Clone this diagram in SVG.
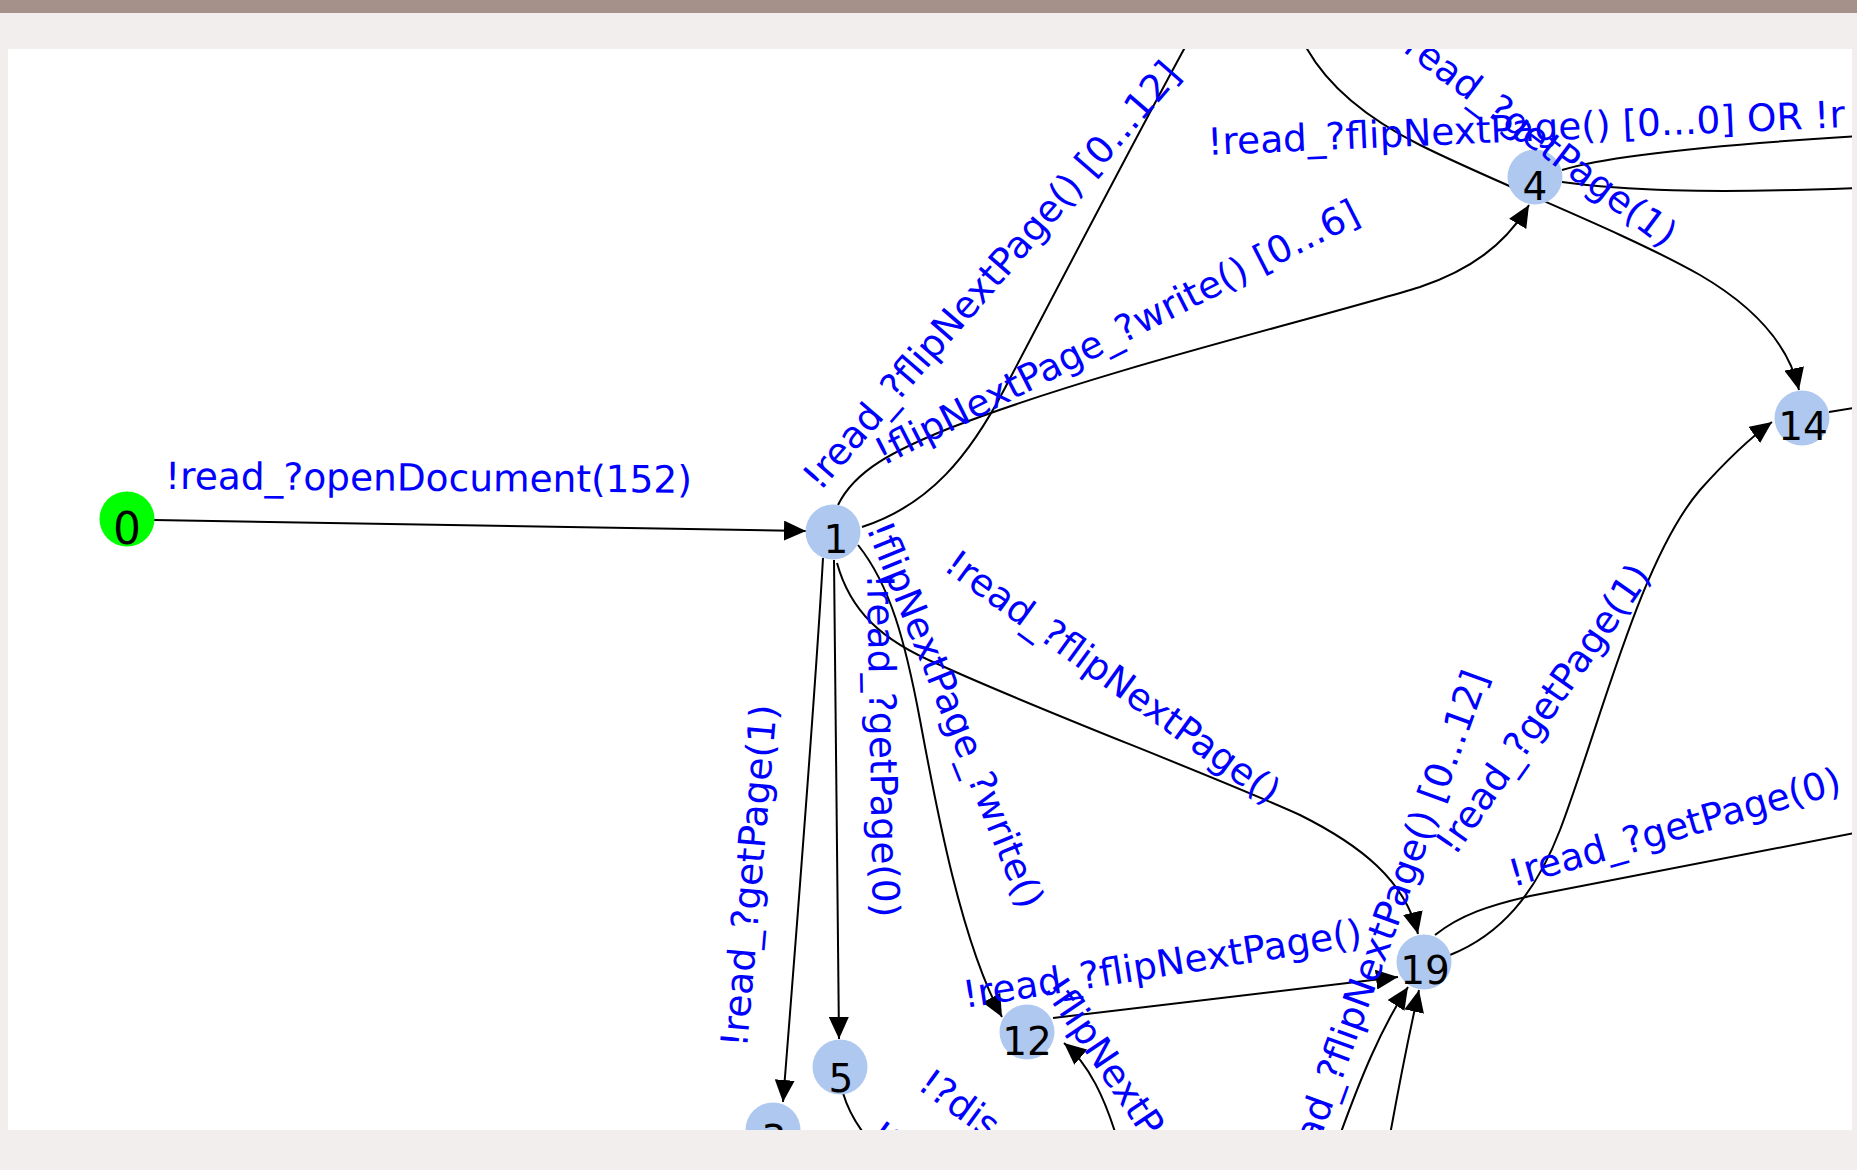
<svg xmlns="http://www.w3.org/2000/svg" width="1857" height="1170" viewBox="0 0 1857 1170">
  <defs>
    <style>
      .edge { fill: none; stroke: #000; stroke-width: 2; }
      .arrowed { marker-end: url(#arrow); }
      .lbl { font-family: "DejaVu Sans", "Liberation Sans", sans-serif; font-size: 37.5px; fill: #0000ff; }
      .state { fill: #afc8f0; }
      .start { fill: #00ff00; }
      .num { font-family: "DejaVu Sans", "Liberation Sans", sans-serif; font-size: 39px; fill: #000; text-anchor: middle; }
    </style>
    <marker id="arrow" viewBox="0 0 22 20" refX="22" refY="10" markerWidth="22" markerHeight="20" markerUnits="userSpaceOnUse" orient="auto">
      <path d="M0,0 L22,10 L0,20 z" fill="#000"/>
    </marker>
    <clipPath id="canvas">
      <rect x="8" y="49" width="1844" height="1081"/>
    </clipPath>
  </defs>

  <!-- window chrome -->
  <rect x="0" y="0" width="1857" height="1170" fill="#f2eeed"/>
  <rect x="0" y="0" width="1857" height="13" fill="#a59189"/>

  <g clip-path="url(#canvas)">
    <rect x="8" y="49" width="1844" height="1081" fill="#fff"/>

    <g id="connectors">
      <path id="e-0-1" class="edge arrowed" d="M154 520 L806 531"/>
      <path id="e-1-out" class="edge" d="M862 527 C930 505 970 455 1005 388 S1150 110 1200 20"/>
      <path id="e-1-4" class="edge arrowed" d="M838 505 C855 470 895 450 950 428 C1100 370 1320 318 1420 287 C1470 270 1505 245 1529 205"/>
      <path id="e-1-3" class="edge arrowed" d="M823 558 C815 700 795 950 783 1102"/>
      <path id="e-1-5" class="edge arrowed" d="M834 560 C835 750 838 900 839 1039"/>
      <path id="e-1-12" class="edge arrowed" d="M858 545 C890 585 905 640 920 720 S960 940 1002 1017"/>
      <path id="e-1-19" class="edge arrowed" d="M837 563 C850 610 880 640 940 665 C1050 715 1200 770 1300 815 C1360 845 1405 880 1418 934"/>
      <path id="e-in-14" class="edge arrowed" d="M1300 35 C1320 80 1360 115 1420 145 C1500 185 1620 230 1700 275 C1760 310 1790 350 1799 390"/>
      <path id="e-4-out-a" class="edge" d="M1562 170 C1600 158 1680 147 1860 136"/>
      <path id="e-4-out-b" class="edge" d="M1562 182 C1620 190 1700 194 1860 188"/>
      <path id="e-14-out" class="edge" d="M1829 412 L1860 407"/>
      <path id="e-19-14" class="edge arrowed" d="M1450 955 C1500 935 1535 895 1560 830 C1600 725 1640 560 1700 490 C1725 462 1750 438 1772 422"/>
      <path id="e-19-out" class="edge" d="M1435 935 C1460 915 1490 905 1530 896 L1860 832"/>
      <path id="e-12-19" class="edge arrowed" d="M1053 1018 L1398 977"/>
      <path id="e-in-12" class="edge arrowed" d="M1116 1135 C1105 1100 1090 1065 1064 1043"/>
      <path id="e-in-19-a" class="edge arrowed" d="M1340 1135 C1360 1080 1380 1030 1408 987"/>
      <path id="e-in-19-b" class="edge arrowed" d="M1390 1135 C1400 1080 1410 1030 1419 990"/>
      <path id="e-5-out" class="edge" d="M843 1093 C848 1110 855 1122 865 1135"/>
    </g>

    <g id="node-0"><circle class="start" cx="127" cy="519" r="27.5"/><text class="num" x="127" y="544" style="font-size:44px">0</text></g>
    <g id="node-1"><circle class="state" cx="833" cy="532" r="27.5"/><text class="num" x="836" y="553">1</text></g>
    <g id="node-4"><circle class="state" cx="1535" cy="177" r="27.5"/><text class="num" x="1535" y="200">4</text></g>
    <g id="node-14"><circle class="state" cx="1802" cy="418" r="27.5"/><text class="num" x="1803" y="440">14</text></g>
    <g id="node-5"><circle class="state" cx="840" cy="1067" r="27.5"/><text class="num" x="841" y="1092">5</text></g>
    <g id="node-3"><circle class="state" cx="773" cy="1130" r="27.5"/><text class="num" x="774" y="1153">3</text></g>
    <g id="node-12"><circle class="state" cx="1027" cy="1032" r="27.5"/><text class="num" x="1027" y="1055">12</text></g>
    <g id="node-19"><circle class="state" cx="1424" cy="962" r="27.5"/><text class="num" x="1425" y="984">19</text></g>

    <g id="edge-labels">
      <text class="lbl" transform="translate(165,489) rotate(0.4)">!read_?openDocument(152)</text>
      <text class="lbl" transform="translate(820,492) rotate(-49)">!read_?flipNextPage() [0...12]</text>
      <text class="lbl" transform="translate(883,466) rotate(-27)">!flipNextPage_?write() [0...6]</text>
      <text class="lbl" transform="translate(1208,155) rotate(-2.5)">!read_?flipNextPage() [0...0] OR !r</text>
      <text class="lbl" transform="translate(1390,42) rotate(37)">!read_?getPage(1)</text>
      <text class="lbl" transform="translate(866,528) rotate(68)">!flipNextPage_?write()</text>
      <text class="lbl" transform="translate(867,574) rotate(89)">!read_?getPage(0)</text>
      <text class="lbl" transform="translate(747,1048) rotate(-85)">!read_?getPage(1)</text>
      <text class="lbl" transform="translate(942,569) rotate(36)">!read_?flipNextPage()</text>
      <text class="lbl" transform="translate(965,1008) rotate(-9)">!read_?flipNextPage()</text>
      <text class="lbl" transform="translate(1300,1195) rotate(-70)">!read_?flipNextPage() [0...12]</text>
      <text class="lbl" transform="translate(1455,857) rotate(-55)">!read_?getPage(1)</text>
      <text class="lbl" transform="translate(1513,887) rotate(-16)">!read_?getPage(0)</text>
      <text class="lbl" transform="translate(916,1088) rotate(36)">!?dis</text>
      <text class="lbl" transform="translate(866,1140) rotate(36)">!?</text>
      <text class="lbl" transform="translate(1042,988) rotate(56)">!flipNextPa</text>
    </g>
  </g>
</svg>
